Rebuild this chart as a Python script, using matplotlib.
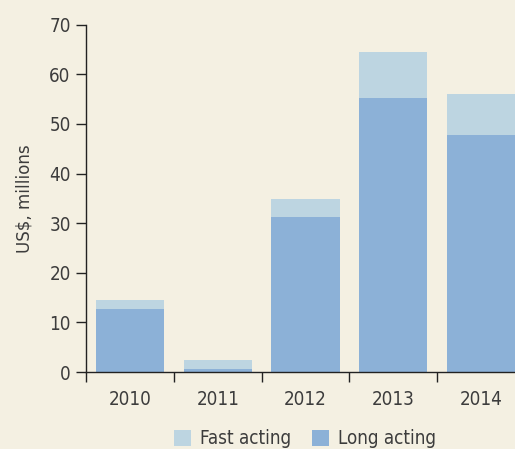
import matplotlib
matplotlib.use("Agg")
import matplotlib.pyplot as plt
from matplotlib import font_manager
from matplotlib.patches import Patch

# Data (US$, millions)
years = ["2010", "2011", "2012", "2013", "2014"]
long_acting = [12.7, 0.6, 31.2, 55.3, 47.7]
fast_acting = [1.8, 1.8, 3.6, 9.1, 8.4]
y_ticks = [0, 10, 20, 30, 40, 50, 60, 70]

BG = "#f4f0e2"
LONG_C = "#8cb1d7"
FAST_C = "#bdd5e1"
TEXT_C = "#3c3c3c"

# Prefer a narrow sans face if one is installed
names = {f.name for f in font_manager.fontManager.ttflist}
family = ["Liberation Sans Narrow"] if "Liberation Sans Narrow" in names else ["DejaVu Sans"]
plt.rcParams["font.family"] = family + ["DejaVu Sans"]
plt.rcParams["font.stretch"] = "condensed"

fig = plt.figure(figsize=(5.15, 4.49), dpi=100, facecolor=BG)
ax = fig.add_axes([86 / 515, 77 / 449, (515 - 86) / 515, 347.3 / 449])
ax.set_facecolor(BG)

x = list(range(len(years)))
width = 0.775
ax.bar(x, long_acting, width=width, color=LONG_C, zorder=2)
ax.bar(x, fast_acting, width=width, bottom=long_acting, color=FAST_C, zorder=2)

for s in ["top", "right"]:
    ax.spines[s].set_visible(False)
for s in ["left", "bottom"]:
    ax.spines[s].set_color("#222222")
    ax.spines[s].set_linewidth(1.0)

ax.set_yticks(y_ticks)
ax.set_yticklabels([str(v) for v in y_ticks])
ax.set_xticks(x)
ax.set_xticklabels(years)
ax.set_xticks([i - 0.5 for i in range(len(years) + 1)], minor=True)
ax.tick_params(axis="x", which="major", length=0, pad=13, labelsize=13.5, colors=TEXT_C)
ax.tick_params(axis="x", which="minor", length=7, width=1, color="#222222", direction="out")
ax.tick_params(axis="y", length=7, width=1, color="#222222", pad=4, labelsize=13.5, labelcolor=TEXT_C)

# limits last so the tick placement does not widen the view
ax.set_ylim(0, 70)
ax.set_xlim(-0.5, -0.5 + (515 - 86) / 87.8)

ax.set_ylabel("US$, millions", fontsize=13.3, color=TEXT_C, labelpad=11)

handles = [Patch(facecolor=FAST_C, label="Fast acting"),
           Patch(facecolor=LONG_C, label="Long acting")]
fig.legend(handles=handles, loc="lower center", bbox_to_anchor=(305 / 515, -0.036),
           ncol=2, frameon=False, fontsize=13.5, handlelength=0.9, handleheight=0.9,
           handletextpad=0.5, columnspacing=1.1, labelcolor=TEXT_C)

fig.savefig("out.png", dpi=100, facecolor=BG)
